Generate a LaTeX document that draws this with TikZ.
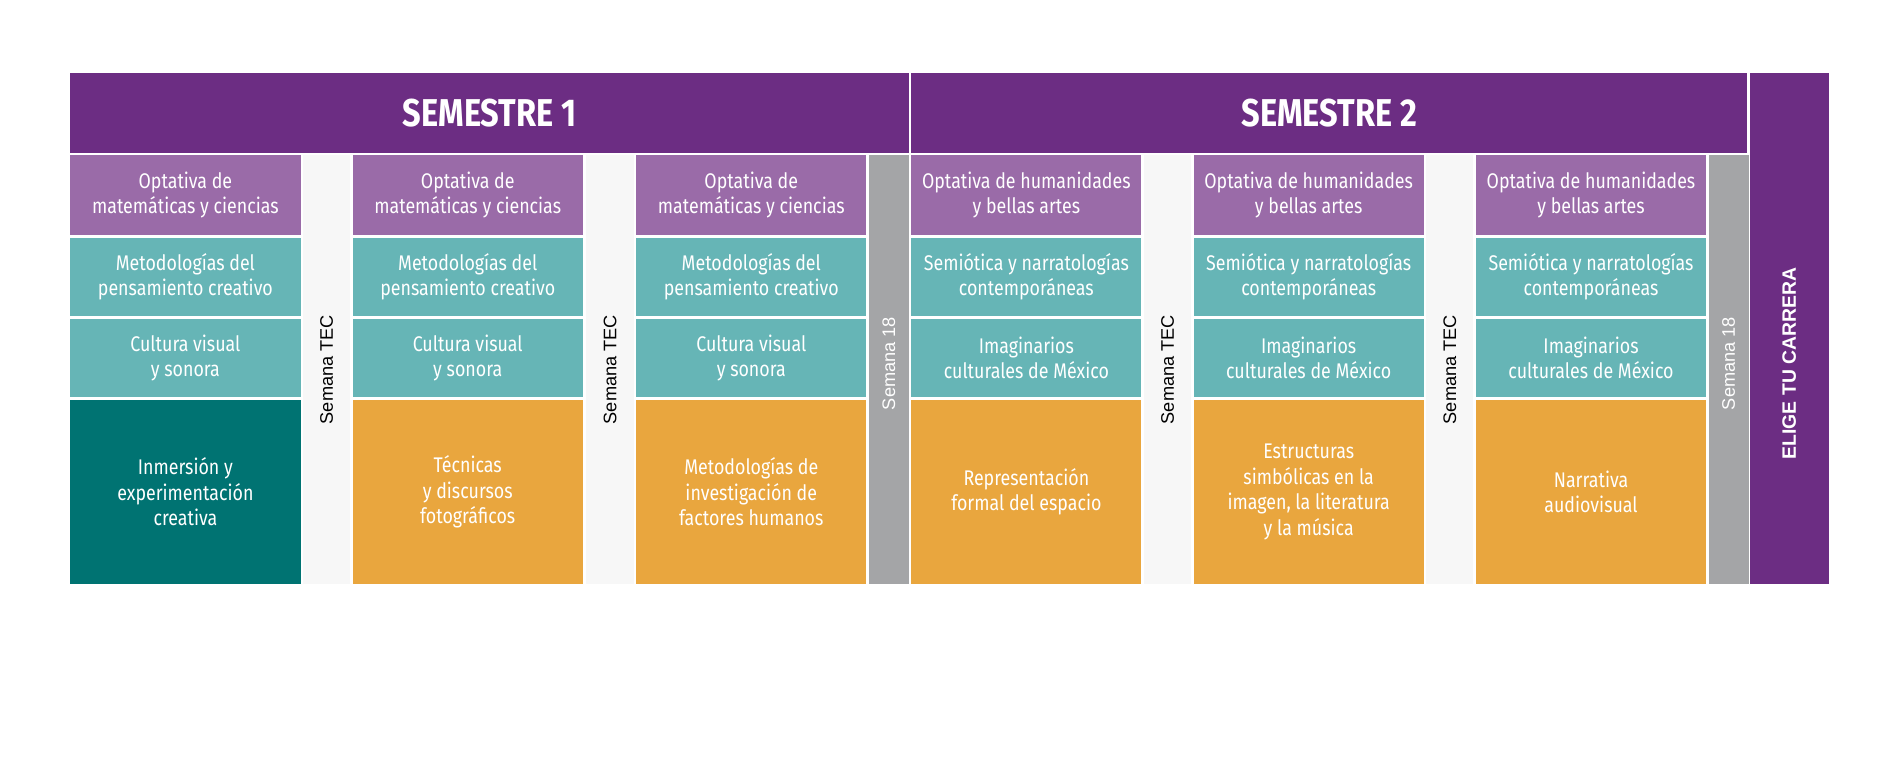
\documentclass[tikz,border=0pt]{standalone}
\usepackage{fontspec}
\setmainfont{Fira Sans}[FakeStretch=0.84]
\newfontfamily\arial{Liberation Sans}
\definecolor{hdr}{HTML}{6C2D83}
\definecolor{lpur}{HTML}{9A6BA8}
\definecolor{teal}{HTML}{66B5B6}
\definecolor{dteal}{HTML}{007372}
\definecolor{ora}{HTML}{E9A63E}
\definecolor{gry}{HTML}{A4A5A7}
\definecolor{gap}{HTML}{F7F7F7}
\tikzset{
 cell/.style={anchor=north west,inner sep=0pt,outer sep=0pt,text=white,align=center,font=\fontsize{17.5}{21}\selectfont},
 vtxt/.style={rotate=90,font=\arial\fontsize{15}{18}\selectfont},
}
\begin{document}
\begin{tikzpicture}[x=1pt,y=-1pt]
\useasboundingbox (0,0) rectangle (1568,643);
% headers
\node[cell,fill=hdr,minimum width=692,minimum height=66,font=\bfseries\fontsize{32}{36}\selectfont] (s1) at (58,60) {SEMESTRE 1};
\node[cell,fill=hdr,minimum width=690,minimum height=66,font=\bfseries\fontsize{32}{36}\selectfont] (s2) at (752,60) {SEMESTRE 2};
\fill[hdr] (1444,60) rectangle (1509,482);
\node[vtxt,text=white,font=\arial\bfseries\fontsize{16}{18}\selectfont] (el) at (1476.5,300) {ELIGE TU CARRERA};
% gaps
\foreach \x/\n in {250/g1,484/g2,944/g4,1177/g5}{
 \fill[gap] (\x,128) rectangle ++(39,354);
 \node[vtxt] (\n) at (\x+19.5,305) {Semana TEC};}
\foreach \x/\n in {717/g3,1410/g6}{
 \fill[gry] (\x,128) rectangle ++(33,354);
 \node[vtxt,text=white] (\n) at (\x+16.5,300) {Semana 18};}
% semester 1 columns
\foreach \x/\i/\b/\t in {58/a/dteal/{Inmersión y\\experimentación\\creativa},291/b/ora/{Técnicas\\y discursos\\fotográficos},525/c/ora/{Metodologías de\\investigación de\\factores humanos}}{
 \node[cell,fill=lpur,minimum width=190,minimum height=66] (\i1) at (\x,128) {Optativa de\\matemáticas y ciencias};
 \node[cell,fill=teal,minimum width=190,minimum height=65] (\i2) at (\x,196) {Metodologías del\\pensamiento creativo};
 \node[cell,fill=teal,minimum width=190,minimum height=65] (\i3) at (\x,263) {Cultura visual\\y sonora};
 \node[cell,fill=\b,minimum width=190,minimum height=152] (\i4) at (\x,330) {\t};
}
\foreach \x/\i/\t in {752/d/{Representación\\formal del espacio},985/e/{Estructuras\\simbólicas en la\\imagen, la literatura\\y la música},1218/f/{Narrativa\\audiovisual}}{
 \node[cell,fill=lpur,minimum width=190,minimum height=66] (\i1) at (\x,128) {Optativa de humanidades\\y bellas artes};
 \node[cell,fill=teal,minimum width=190,minimum height=65] (\i2) at (\x,196) {Semiótica y narratologías\\contemporáneas};
 \node[cell,fill=teal,minimum width=190,minimum height=65] (\i3) at (\x,263) {Imaginarios\\culturales de México};
 \node[cell,fill=ora,minimum width=190,minimum height=152] (\i4) at (\x,330) {\t};
}
\end{tikzpicture}
\end{document}
